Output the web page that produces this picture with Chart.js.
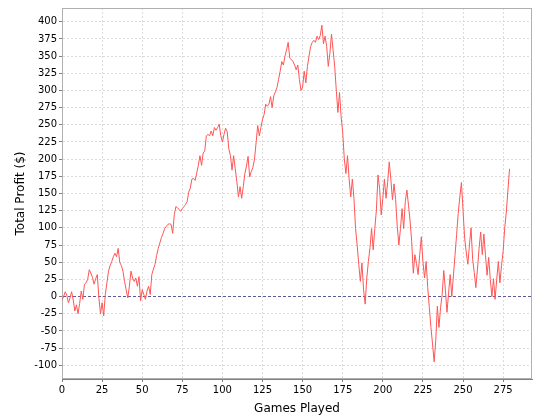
<!DOCTYPE html>
<html>
<head>
<meta charset="utf-8">
<script src="https://cdn.jsdelivr.net/npm/chart.js@4/dist/chart.umd.min.js"></script>
<style>
  html, body { margin: 0; padding: 0; background: #ffffff; }
  #wrap { width: 540px; height: 420px; }
</style>
</head>
<body>
<div id="wrap"><canvas id="c" width="540" height="420"></canvas></div>
<script>
// Total profit after each game (index = games played)
const profits = [
  -5, 0, 7, 2, -9, -2, 7, -5, -21, -12,
  -25, -10, 8, -4, 18, 20, 25, 39, 34, 28,
  18, 26, 32, -2, -25, -9, -28, 3, 20, 37,
  45, 51, 58, 63, 58, 70, 50, 45, 37, 22,
  10, -2, 15, 37, 27, 22, 27, 15, 29, -6,
  10, 3, -4, 8, 15, 3, 32, 40, 47, 60,
  70, 78, 86, 92, 99, 102, 105, 106, 105, 92,
  119, 131, 129, 127, 124, 128, 131, 134, 138, 152,
  158, 171, 172, 169, 180, 191, 205, 191, 209, 212,
  234, 236, 234, 241, 234, 246, 242, 246, 251, 234,
  225, 236, 245, 240, 215, 205, 184, 205, 186, 167,
  145, 160, 143, 160, 179, 190, 204, 174, 182, 188,
  200, 224, 249, 234, 246, 258, 265, 280, 277, 280,
  291, 275, 292, 298, 304, 316, 328, 342, 337, 350,
  359, 370, 347, 345, 342, 337, 330, 337, 316, 300,
  305, 328, 311, 335, 350, 364, 370, 373, 370, 379,
  374, 380, 395, 368, 379, 364, 335, 354, 382, 359,
  335, 300, 268, 297, 262, 239, 200, 179, 205, 171,
  145, 171, 143, 99, 75, 47, 22, 49, 10, -11,
  27, 51, 71, 99, 68, 99, 126, 177, 157, 119,
  143, 171, 143, 166, 196, 171, 141, 164, 141, 102,
  75, 99, 128, 99, 138, 155, 133, 110, 80, 34,
  61, 48, 32, 61, 87, 51, 27, 51, 13, -16,
  -45, -69, -95, -64, -14, -45, -16, 3, 38, 10,
  -23, 5, 32, 0, 30, 60, 90, 121, 145, 166,
  126, 85, 65, 47, 75, 100, 54, 35, 13, 40,
  70, 94, 61, 91, 60, 31, 57, 25, 0, 26,
  -4, 25, 51, 20, 45, 66, 100, 123, 155, 186
];
const games = profits.map((_, i) => i);
const xTicks = [0, 25, 50, 75, 100, 125, 150, 175, 200, 225, 250, 275];
const yTicks = [-100, -75, -50, -25, 0, 25, 50, 75, 100, 125, 150, 175, 200, 225, 250, 275, 300, 325, 350, 375, 400];
const xTitle = 'Games Played';
const yTitle = 'Total Profit ($)';

const points = games.map((g, i) => ({ x: g, y: profits[i] }));

const plotBorder = {
  id: 'plotBorder',
  beforeDatasetsDraw(chart) {
    const { ctx, chartArea: a } = chart;
    ctx.save();
    ctx.strokeStyle = '#b0b0b0';
    ctx.lineWidth = 1;
    ctx.strokeRect(Math.round(a.left) + 0.5, Math.round(a.top) + 0.5,
                   Math.round(a.right - a.left) - 1, Math.round(a.bottom - a.top) - 1);
    ctx.restore();
  }
};

const tickFont = { family: 'DejaVu Sans', size: 10 };
const titleFont = { family: 'DejaVu Sans', size: 12 };
const isZero = c => c.tick && c.tick.value === 0;

new Chart(document.getElementById('c'), {
  type: 'line',
  data: {
    datasets: [{
      data: points,
      borderColor: '#ff5555',
      borderWidth: 1,
      pointRadius: 0,
      tension: 0,
      fill: false
    }]
  },
  options: {
    responsive: false,
    animation: false,
    events: [],
    layout: { padding: { top: 4, right: 8, left: 0, bottom: 0 } },
    plugins: { legend: { display: false }, tooltip: { enabled: false } },
    scales: {
      x: {
        type: 'linear',
        min: 0,
        max: 293,
        afterBuildTicks: s => { s.ticks = xTicks.map(v => ({ value: v })); },
        afterFit: s => { s.height = 41; },
        ticks: { font: tickFont, color: '#000', padding: 2, maxRotation: 0, autoSkip: false },
        grid: { color: '#dcdcdc', tickColor: '#808080', tickLength: 3, drawTicks: true },
        border: { color: '#808080', width: 1, dash: [2, 2] },
        title: { display: true, text: xTitle, font: titleFont, color: '#000', padding: { top: 2, bottom: 4 } }
      },
      y: {
        type: 'linear',
        min: -120,
        max: 420,
        afterBuildTicks: s => { s.ticks = yTicks.map(v => ({ value: v })); },
        afterFit: s => { s.width = 62; },
        ticks: { font: tickFont, color: '#000', padding: 2, autoSkip: false },
        grid: {
          color: c => isZero(c) ? 'rgb(90,90,150)' : '#dcdcdc',
          tickColor: '#808080', tickLength: 3, drawTicks: true
        },
        border: { color: '#808080', width: 1, dash: c => isZero(c) ? [3, 2] : [2, 2] },
        title: { display: true, text: yTitle, font: titleFont, color: '#000', padding: { top: 14, bottom: 2 } }
      }
    }
  },
  plugins: [plotBorder]
});
</script>
</body>
</html>
